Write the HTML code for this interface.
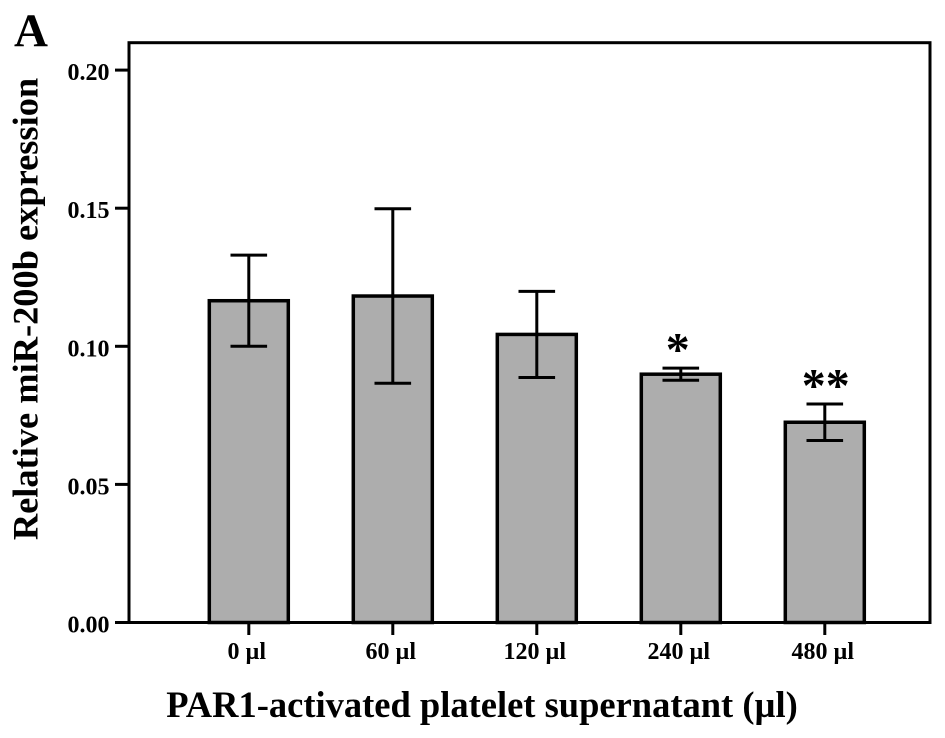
<!DOCTYPE html>
<html>
<head>
<meta charset="utf-8">
<style>
html,body{margin:0;padding:0;background:#fff;}
svg{display:block;}
text{font-family:"Liberation Serif",serif;font-weight:bold;fill:#000;}
</style>
</head>
<body>
<svg id="chart" width="945" height="738" viewBox="0 0 945 738" xmlns="http://www.w3.org/2000/svg">
<text x="14" y="46" font-size="47">A</text>
<rect x="129" y="42.7" width="801" height="579.8" fill="#fff" stroke="#000" stroke-width="3"/>
<g id="marks"></g>
<text transform="translate(37.5,309) rotate(-90)" text-anchor="middle" font-size="36.4">Relative miR-200b expression</text>
<text x="482" y="717" text-anchor="middle" font-size="36.5">PAR1-activated platelet supernatant (µl)</text>
</svg>
<script>
const categories = ['0 µl', '60 µl', '120 µl', '240 µl', '480 µl'];
const values = [0.1165, 0.1182, 0.1043, 0.0899, 0.0725];
const errors = [0.0165, 0.0316, 0.0156, 0.0022, 0.0066];
const significance = ['', '', '', '*', '**'];
const yTicks = [0, 0.05, 0.10, 0.15, 0.20];
const yTickLabels = ['0.00', '0.05', '0.10', '0.15', '0.20'];

const NS = 'http://www.w3.org/2000/svg';
const marks = document.getElementById('marks');
function y(v) { return 622.5 - v * 2762; }
function x(i) { return 248.8 + i * 144; }
function add(tag, attrs, parent) {
  const el = document.createElementNS(NS, tag);
  for (const k in attrs) el.setAttribute(k, attrs[k]);
  (parent || marks).appendChild(el);
  return el;
}
yTicks.forEach(function (t, i) {
  const tick = add('line', {x1: 115, x2: 129, y1: y(t), y2: y(t), stroke: '#000', 'stroke-width': 3});
  
  
  const lab = add('text', {x: 109.5, y: y(t) + 10, 'text-anchor': 'end', 'font-size': 24});
  lab.textContent = yTickLabels[i];
  
  
});
categories.forEach(function (c, i) {
  const cx = x(i);
  const top = y(values[i]);
  const bar = add('rect', {x: cx - 39.5, y: top, width: 79, height: 622.5 - top, fill: '#adadad', stroke: '#000', 'stroke-width': 3.5});
  
  
  const hi = y(values[i] + errors[i]);
  const lo = y(values[i] - errors[i]);
  [[cx, hi, cx, lo], [cx - 18.3, hi, cx + 18.3, hi], [cx - 18.3, lo, cx + 18.3, lo]].forEach(function (p) {
    const e = add('line', {x1: p[0], y1: p[1], x2: p[2], y2: p[3], stroke: '#000', 'stroke-width': 3});
    
    
  });
  const tick = add('line', {x1: cx, x2: cx, y1: 622.5, y2: 635, stroke: '#000', 'stroke-width': 3});
  
  
  const lab = add('text', {x: cx - 2, y: 659, 'text-anchor': 'middle', 'font-size': 24});
  lab.textContent = c;
  
  
  if (significance[i]) {
    const s = add('text', {x: cx - 3 + (significance[i].length - 1) * 4, y: hi - 2.5, 'text-anchor': 'middle', 'font-size': 48});
    s.textContent = significance[i];
    
    
  }
});
</script>
</body>
</html>
